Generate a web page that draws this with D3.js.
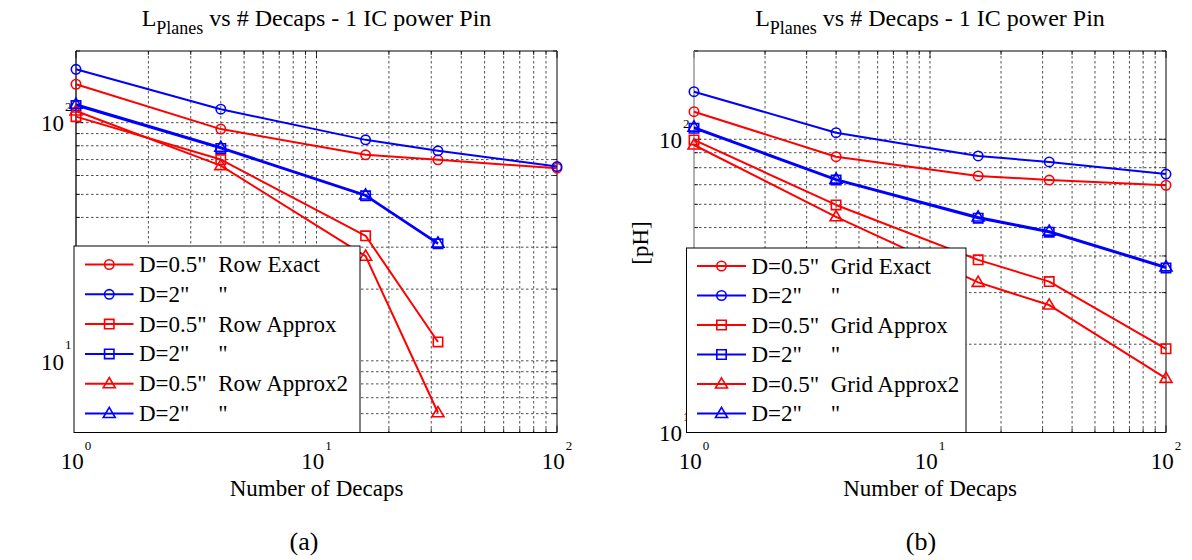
<!DOCTYPE html>
<html>
<head>
<meta charset="utf-8">
<script src="https://cdn.jsdelivr.net/npm/d3@7"></script>
<style>
  html, body { margin: 0; padding: 0; background: #fff; }
  svg { display: block; }
  text { font-family: "Liberation Serif", "Times New Roman", serif; fill: #000; }
</style>
</head>
<body>
<svg id="fig" width="1192" height="560"></svg>
<script>
// Number of decoupling capacitors on the x axis
const decaps = [1, 4, 16, 32, 100];
const decapsRow = [1, 4, 16, 32];

// Panel (a): decaps placed in a row, plane inductance [pH]
const rowExact05 = [145, 94, 73.3, 69.8, 64.4];
const rowExact2 = [167.6, 113.9, 84.7, 76.2, 65.4];
const rowApprox05 = [106, 70, 33.5, 12.0];
const rowApprox2in = [118, 78, 49.3, 31];
const rowApproxB05 = [112, 66, 27.5, 6.05];
const rowApproxB2in = [119.5, 78.8, 49.7, 31.2];

// Panel (b): decaps placed on a grid, plane inductance [pH]
const gridExact05 = [124.2, 87.2, 75, 72.6, 69.7];
const gridExact2 = [145.3, 105.3, 87.7, 83.7, 76.1];
const gridApprox05 = [99.5, 59.7, 38.8, 32.7, 19.3];
const gridApprox2in = [109, 72.6, 53.8, 48.2, 36.4];
const gridApproxB05 = [95.6, 54.4, 32.5, 27.2, 15.3];
const gridApproxB2in = [110, 73.1, 54.3, 48.6, 36.7];

// Axis tick labels (powers of ten)
const xTickExps = [0, 1, 2];
const yTickExpsA = [1, 2];
const yTickExpsB = [1, 2];

const legendA = ['D=0.5"  Row Exact', 'D=2"     "', 'D=0.5"  Row Approx', 'D=2"     "', 'D=0.5"  Row Approx2', 'D=2"     "'];
const legendB = ['D=0.5"  Grid Exact', 'D=2"     "', 'D=0.5"  Grid Approx', 'D=2"     "', 'D=0.5"  Grid Approx2', 'D=2"     "'];

const RED = "#ff0000", BLUE = "#0000ff";
const svg = d3.select("#fig");

function markerPath(type) {
  if (type === "circle") return d3.symbol(d3.symbolCircle, Math.PI * 4.7 * 4.7)();
  if (type === "square") return "M-4.7,-4.7H4.7V4.7H-4.7Z";
  return "M0,-6.2L6,4L-6,4Z";
}

function drawPanel(cfg) {
  const g = svg.append("g");
  const x = d3.scaleLog().domain([1, 100]).range([cfg.left, cfg.right]);
  const y = d3.scaleLog().domain(cfg.yDomain).range([cfg.bottom, cfg.top]);

  // dashed grid at every log tick inside the box
  const xg = x.ticks().filter(v => v > 1 && v < 100);
  const yg = y.ticks().filter(v => v > cfg.yDomain[0] && v < cfg.yDomain[1]);
  const grid = g.append("g").attr("stroke", "#222").attr("stroke-width", 0.8)
    .attr("stroke-dasharray", "2.5,2.5");
  grid.selectAll(".gx").data(xg).join("line")
    .attr("x1", d => x(d)).attr("x2", d => x(d))
    .attr("y1", cfg.top).attr("y2", cfg.bottom);
  grid.selectAll(".gy").data(yg).join("line")
    .attr("y1", d => y(d)).attr("y2", d => y(d))
    .attr("x1", cfg.left).attr("x2", cfg.right);

  // inward tick marks on all four sides
  const tk = g.append("g").attr("stroke", "#000").attr("stroke-width", 0.8);
  const xt = x.ticks();
  const yt = y.ticks();
  const isMajor = v => Math.abs(Math.log10(v) - Math.round(Math.log10(v))) < 1e-9;
  xt.forEach(v => {
    const L = isMajor(v) ? 7 : 4;
    tk.append("line").attr("x1", x(v)).attr("x2", x(v)).attr("y1", cfg.bottom).attr("y2", cfg.bottom - L);
    tk.append("line").attr("x1", x(v)).attr("x2", x(v)).attr("y1", cfg.top).attr("y2", cfg.top + L);
  });
  yt.forEach(v => {
    const L = isMajor(v) ? 7 : 4;
    tk.append("line").attr("y1", y(v)).attr("y2", y(v)).attr("x1", cfg.left).attr("x2", cfg.left + L);
    tk.append("line").attr("y1", y(v)).attr("y2", y(v)).attr("x1", cfg.right).attr("x2", cfg.right - L);
  });

  // axes box
  g.append("path")
    .attr("d", `M${cfg.left},${cfg.top}H${cfg.right}V${cfg.bottom}H${cfg.left}`)
    .attr("fill", "none").attr("stroke", "#000").attr("stroke-width", 1);
  g.append("line").attr("x1", cfg.left).attr("x2", cfg.left)
    .attr("y1", cfg.top).attr("y2", cfg.bottom)
    .attr("stroke", cfg.leftSpine).attr("stroke-width", 1.3);

  // series
  const line = d3.line().x(d => x(d[0])).y(d => y(d[1]));
  cfg.series.forEach(s => {
    const pts = s.ys.map((v, i) => [s.xs[i], v]);
    g.append("path").datum(pts).attr("d", line)
      .attr("fill", "none").attr("stroke", s.color).attr("stroke-width", 2)
      .attr("stroke-linejoin", "round");
    g.selectAll(null).data(pts).join("path")
      .attr("d", markerPath(s.marker))
      .attr("transform", d => `translate(${x(d[0])},${y(d[1])})`)
      .attr("fill", "none").attr("stroke", s.color).attr("stroke-width", 1.6);
  });

  // x tick labels 10^k
  xTickExps.forEach(k => {
    const t = g.append("text").attr("x", x(Math.pow(10, k))).attr("y", 469)
      .attr("text-anchor", "middle").attr("font-size", 23);
    t.append("tspan").text("10");
    t.append("tspan").attr("dy", -19).attr("dx", 1).attr("font-size", 13).text(k);
  });
  // y tick labels 10^k
  cfg.yTickExps.forEach(k => {
    const yy = y(Math.pow(10, k));
    g.append("text").attr("x", cfg.left - 12).attr("y", yy + 8.7)
      .attr("text-anchor", "end").attr("font-size", 23).text("10");
    g.append("text").attr("x", cfg.left - 11).attr("y", yy - 11.5)
      .attr("font-size", 13).text(k);
  });

  // title with subscript
  const cx = (cfg.left + cfg.right) / 2;
  const title = g.append("text").attr("x", cx).attr("y", 25.5)
    .attr("text-anchor", "middle").attr("font-size", 24);
  title.append("tspan").text("L");
  title.append("tspan").attr("dy", 8.5).attr("font-size", 18).text("Planes");
  title.append("tspan").attr("dy", -8.5).style("white-space", "pre").text(" vs # Decaps - 1 IC power Pin");

  g.append("text").attr("x", cx).attr("y", 496).attr("text-anchor", "middle")
    .attr("font-size", 23).text("Number of Decaps");
  g.append("text").attr("x", cfg.captionX).attr("y", 550).attr("text-anchor", "middle")
    .attr("font-size", 26).text(cfg.caption);

  if (cfg.yLabel) {
    g.append("text").attr("transform", `translate(${cfg.yLabelX},243) rotate(-90)`)
      .attr("text-anchor", "middle").attr("dy", "0.35em").attr("font-size", 23).text(cfg.yLabel);
  }

  // legend
  const L = cfg.legend;
  const lg = g.append("g");
  lg.append("rect").attr("x", L.x0).attr("y", L.y0)
    .attr("width", L.x1 - L.x0).attr("height", L.y1 - L.y0)
    .attr("fill", "#fff").attr("stroke", "#000").attr("stroke-width", 1);
  cfg.series.forEach((s, i) => {
    const ry = L.row0 + i * L.step;
    lg.append("line").attr("x1", L.lx0).attr("x2", L.lx1).attr("y1", ry).attr("y2", ry)
      .attr("stroke", s.color).attr("stroke-width", 2);
    lg.append("path").attr("d", markerPath(s.marker))
      .attr("transform", `translate(${(L.lx0 + L.lx1) / 2},${ry})`)
      .attr("fill", "none").attr("stroke", s.color).attr("stroke-width", 1.6);
    lg.append("text").attr("x", L.tx).attr("y", ry + 7.5).attr("font-size", 23)
      .style("white-space", "pre").text(cfg.labels[i]);
  });
}

drawPanel({
  left: 76, right: 557, top: 51, bottom: 432.5,
  yDomain: [5, 200], yTickExps: yTickExpsA, leftSpine: "#000",
  caption: "(a)", captionX: 304, yLabel: null,
  labels: legendA,
  legend: { x0: 74, x1: 360, y0: 246, y1: 432.5, lx0: 85, lx1: 133.5, tx: 139, row0: 264.5, step: 29.8 },
  series: [
    { color: RED, marker: "circle", xs: decaps, ys: rowExact05 },
    { color: BLUE, marker: "circle", xs: decaps, ys: rowExact2 },
    { color: RED, marker: "square", xs: decapsRow, ys: rowApprox05 },
    { color: BLUE, marker: "square", xs: decapsRow, ys: rowApprox2in },
    { color: RED, marker: "triangle", xs: decapsRow, ys: rowApproxB05 },
    { color: BLUE, marker: "triangle", xs: decapsRow, ys: rowApproxB2in }
  ]
});

drawPanel({
  left: 694, right: 1166, top: 51, bottom: 432.5,
  yDomain: [10, 200], yTickExps: yTickExpsB, leftSpine: "#888",
  caption: "(b)", captionX: 921, yLabel: "[pH]", yLabelX: 640,
  labels: legendB,
  legend: { x0: 686.5, x1: 966, y0: 248, y1: 432.5, lx0: 697, lx1: 746, tx: 751.5, row0: 266, step: 29.5 },
  series: [
    { color: RED, marker: "circle", xs: decaps, ys: gridExact05 },
    { color: BLUE, marker: "circle", xs: decaps, ys: gridExact2 },
    { color: RED, marker: "square", xs: decaps, ys: gridApprox05 },
    { color: BLUE, marker: "square", xs: decaps, ys: gridApprox2in },
    { color: RED, marker: "triangle", xs: decaps, ys: gridApproxB05 },
    { color: BLUE, marker: "triangle", xs: decaps, ys: gridApproxB2in }
  ]
});
</script>
</body>
</html>
